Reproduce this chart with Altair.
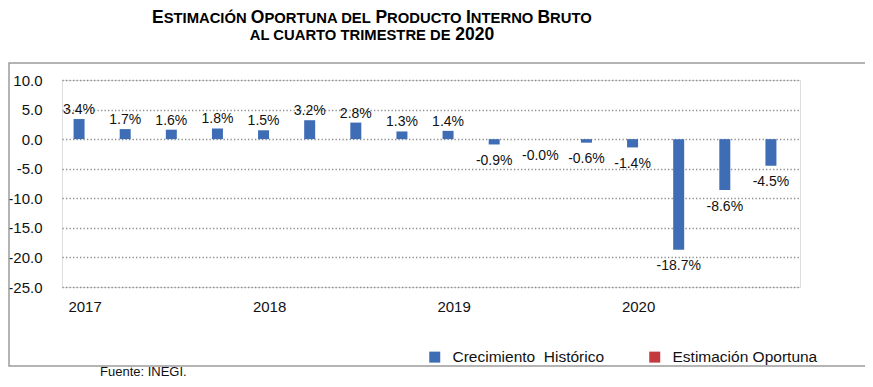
import altair as alt
import pandas as pd

# ---------------- data ----------------
years = ["2017", "2018", "2019", "2020"]
quarters = ["T1", "T2", "T3", "T4"]
values = [3.4, 1.7, 1.6, 1.8, 1.5, 3.2, 2.8, 1.3, 1.4, -0.9, -0.0, -0.6, -1.4, -18.7, -8.6, -4.5]
labels = ["3.4%", "1.7%", "1.6%", "1.8%", "1.5%", "3.2%", "2.8%", "1.3%", "1.4%",
          "-0.9%", "-0.0%", "-0.6%", "-1.4%", "-18.7%", "-8.6%", "-4.5%"]
y_ticks = [10, 5, 0, -5, -10, -15, -20, -25]
series_names = ["Crecimiento\u00a0 Histórico", "Estimación Oportuna"]
series_colors = ["#3E6DB5", "#C23A3F"]
title_line1 = [("E", 1), ("STIMACIÓN ", 0), ("O", 1), ("PORTUNA DEL ", 0), ("P", 1),
               ("RODUCTO ", 0), ("I", 1), ("NTERNO ", 0), ("B", 1), ("RUTO", 0)]
title_line2 = [("AL CUARTO TRIMESTRE DE ", 0), ("2020", 1)]
source_text = "Fuente: INEGI."

FONT = "Liberation Sans"

periods = [f"{y}-{q}" for y in years for q in quarters]
df = pd.DataFrame({
    "periodo": periods,
    "valor": values,
    "etiqueta": labels,
    "serie": series_names[0],
})
df["neg"] = df["etiqueta"].str.startswith("-")

# ---------------- title (small caps built from segments) ----------------
ARIAL_BOLD = {"A": .722, "B": .722, "C": .722, "D": .722, "E": .667, "I": .278, "L": .611,
              "M": .833, "N": .722, "O": .778, "Ó": .778, "P": .667, "R": .722, "S": .667,
              "T": .611, "U": .722, " ": .278, "0": .556, "2": .556}
BIG, SMALL = 17.5, 14.8
CENTER_X = 310


def segments(parts, base_y):
    rows = []
    widths = [sum(ARIAL_BOLD.get(c, .6) for c in t) * (BIG if big else SMALL) for t, big in parts]
    x = CENTER_X - sum(widths) / 2
    for (t, big), w in zip(parts, widths):
        rows.append({"t": t.strip(), "px": x, "py": base_y, "fs": BIG if big else SMALL})
        x += w
    return rows


title_df = pd.DataFrame(segments(title_line1, -57) + segments(title_line2, -40))

# ---------------- chart ----------------
x_enc = alt.X(
    "periodo:N", sort=periods,
    scale=alt.Scale(paddingInner=0, paddingOuter=0),
    axis=alt.Axis(
        title=None, ticks=False, domain=False, labelAngle=0, labelOverlap=False,
        labelExpr="indexof(datum.value, 'T1') >= 0 ? slice(datum.value, 0, 4) : ''",
        labelFontSize=15, labelFont=FONT, labelColor="#111", labelPadding=12, grid=False,
    ),
)
y_enc = alt.Y(
    "valor:Q",
    scale=alt.Scale(domain=[-25, 10], nice=False, zero=True),
    axis=alt.Axis(
        title=None, values=y_ticks, ticks=False, domain=False,
        labelOverlap=False, labelBound=False,
        labelExpr="(datum.value < 0 ? '-' : '') + format(abs(datum.value), '.1f')",
        labelFontSize=15, labelFont=FONT, labelColor="#111", labelPadding=20,
        grid=True, gridColor="#8c8c8c", gridDash=[1.3, 2.2], gridWidth=1.3,
    ),
)

bars = alt.Chart(df).mark_bar(width=11, xOffset=-6).encode(
    x=x_enc,
    y=y_enc,
    color=alt.Color(
        "serie:N",
        scale=alt.Scale(domain=series_names, range=series_colors),
        legend=alt.Legend(
            orient="none", legendX=365, legendY=269, direction="horizontal", title=None,
            symbolType="square", symbolSize=121, symbolStrokeWidth=0,
            labelFontSize=15.5, labelFont=FONT, labelColor="#111", labelOffset=10,
            columnPadding=42,
        ),
    ),
)

pos_text = alt.Chart(df).transform_filter("!datum.neg").mark_text(
    baseline="alphabetic", dy=-5, xOffset=-6, fontSize=14, font=FONT, color="#111"
).encode(x=x_enc, y=y_enc, text="etiqueta:N")

neg_text = alt.Chart(df).transform_filter("datum.neg").mark_text(
    baseline="alphabetic", dy=20.5, xOffset=-6, fontSize=14, font=FONT, color="#111"
).encode(x=x_enc, y=y_enc, text="etiqueta:N")

box = alt.Chart(alt.Data(values=[{"k": 1}])).mark_rect(
    fill="transparent", stroke="#9c9c9c", strokeWidth=1.5
).encode(x=alt.value(-53), x2=alt.value(804), y=alt.value(-17), y2=alt.value(286))

title = alt.Chart(title_df).mark_text(
    align="left", baseline="alphabetic", font=FONT, fontWeight="bold", color="#000"
).encode(
    x=alt.X("px:Q", scale=None),
    y=alt.Y("py:Q", scale=None),
    size=alt.Size("fs:Q", scale=None, legend=None),
    text="t:N",
)

source = alt.Chart(alt.Data(values=[{"s": source_text}])).mark_text(
    align="left", baseline="alphabetic", fontSize=13, font=FONT, color="#111"
).encode(x=alt.value(38), y=alt.value(296), text="s:N")

chart = alt.layer(box, bars, pos_text, neg_text, title, source).properties(
    width=738, height=207,
    autosize=alt.AutoSizeParams(type="none"),
    padding={"left": 54, "top": 72, "right": 65, "bottom": 92},
    background="white",
).configure_view(strokeWidth=0).configure(font=FONT)

chart.save("out.html", embed_options={"renderer": "svg", "actions": False})
